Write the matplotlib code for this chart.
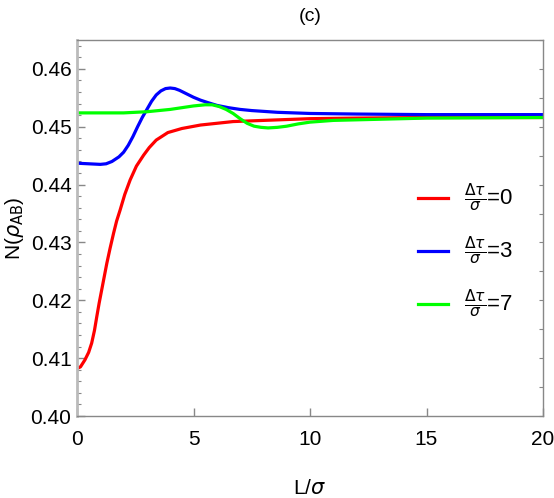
import numpy as np
import matplotlib
matplotlib.use("Agg")
import matplotlib.pyplot as plt
from matplotlib.ticker import MultipleLocator

plt.rcParams['font.family'] = ['Liberation Sans Narrow', 'Liberation Sans', 'DejaVu Sans']
plt.rcParams['mathtext.fontset'] = 'custom'
plt.rcParams['mathtext.rm'] = 'Liberation Sans Narrow'
plt.rcParams['mathtext.it'] = 'Liberation Sans Narrow:italic'

# Δτ/σ = 0
L_red = [0, 0.15, 0.34, 0.5, 0.63, 0.75, 0.85, 0.95, 1.06, 1.17, 1.28, 1.42, 1.57, 1.7, 1.85, 2.05, 2.28,
         2.55, 2.86, 3.1, 3.4, 3.9, 4.5, 5.3, 6.0, 6.7, 8.0, 10, 12, 15, 20]
N_red = [0.4082, 0.4085, 0.4097, 0.4110, 0.4126, 0.4148, 0.4172, 0.4195, 0.4218, 0.4241, 0.4264, 0.4290,
         0.4316, 0.4337, 0.4356, 0.4383, 0.4408, 0.4432, 0.4451, 0.4464, 0.4477, 0.4490, 0.4497, 0.4503,
         0.4506, 0.4509, 0.4511, 0.4514, 0.4515, 0.4516, 0.4516]

# Δτ/σ = 3
L_blue = [0, 0.5, 1.0, 1.25, 1.5, 1.8, 2.0, 2.2, 2.4, 2.6, 2.8, 3.0, 3.2, 3.4, 3.6, 3.8, 4.0, 4.2, 4.4,
          4.7, 5.0, 5.3, 5.6, 6.0, 6.5, 7.0, 7.5, 8.6, 10, 12, 15, 20]
N_blue = [0.4437, 0.4436, 0.4435, 0.4436, 0.4440, 0.4448, 0.4456, 0.4468, 0.4483, 0.4500, 0.4516, 0.4530,
          0.4544, 0.4555, 0.4562, 0.4566, 0.4567, 0.4566, 0.4563, 0.4557, 0.4551, 0.4546, 0.4542, 0.4537,
          0.4533, 0.4530, 0.4528, 0.4525, 0.4523, 0.4522, 0.4521, 0.4521]

# Δτ/σ = 7
L_green = [0, 1, 2, 3, 3.5, 4.0, 4.5, 5.0, 5.5, 5.8, 6.1, 6.4, 6.7, 7.0, 7.3, 7.6, 7.9, 8.2, 8.6, 9.0,
           9.5, 10, 11, 12, 15, 20]
N_green = [0.4524, 0.4524, 0.4524, 0.4526, 0.4528, 0.4530, 0.4533, 0.4536, 0.4538, 0.4538, 0.4535, 0.4530,
           0.4523, 0.4514, 0.4506, 0.4501, 0.4499, 0.4498, 0.4499, 0.4501, 0.4505, 0.4508, 0.4511, 0.4512,
           0.4515, 0.4516]

labels = [r'$\frac{\Delta\tau}{\sigma}$=0', r'$\frac{\Delta\tau}{\sigma}$=3', r'$\frac{\Delta\tau}{\sigma}$=7']

fig = plt.figure(figsize=(5.54, 4.98), dpi=100)
ax = fig.add_axes([77/554, 82/498, 466/554, 376/498])

ax.plot(L_red, N_red, color="#ff0000", lw=2.3, label=labels[0])
ax.plot(L_blue, N_blue, color="#0000ff", lw=2.3, label=labels[1])
ax.plot(L_green, N_green, color="#00ff00", lw=2.3, label=labels[2])

ax.set_xlim(0, 20)
ax.set_ylim(0.40, 0.465)
ax.set_xticks([0, 5, 10, 15, 20])
ax.set_yticks([0.40, 0.41, 0.42, 0.43, 0.44, 0.45, 0.46])
ax.set_yticklabels(["0.40", "0.41", "0.42", "0.43", "0.44", "0.45", "0.46"])
ax.yaxis.set_minor_locator(MultipleLocator(0.002))

for s in ax.spines.values():
    s.set_color("#888888")
    s.set_linewidth(1.0)
ax.spines['left'].set_color("#bbbbbb")
ax.spines['left'].set_linewidth(2)

ax.tick_params(axis='both', which='major', direction='in', length=6, width=1,
               color="#888888", labelsize=15, pad=4)
ax.tick_params(axis='y', which='minor', direction='in', length=3, width=0.8, color="#888888")
ax.tick_params(axis='x', which='major', pad=10)

# right-side ticks
ax2 = ax.twinx()
ax2.set_ylim(0.40, 0.465)
ax2.set_yticks(np.arange(0.40, 0.466, 0.005))
ax2.tick_params(axis='y', direction='in', length=3, width=0.8, color="#888888", labelright=False)
for s in ax2.spines.values():
    s.set_visible(False)

ax.set_xlabel(r"L/$\sigma$", fontsize=15, labelpad=22)
ax.set_ylabel(r"N($\rho_{\mathrm{AB}}$)", fontsize=15, labelpad=3)
ax.set_title("(c)", fontsize=14, pad=14)

ax.legend(loc='center left', bbox_to_anchor=(0.689, 0.439), frameon=False, fontsize=16,
          handlelength=1.35, labelspacing=0.95, handletextpad=0.7)

fig.savefig("out.png", dpi=100)
